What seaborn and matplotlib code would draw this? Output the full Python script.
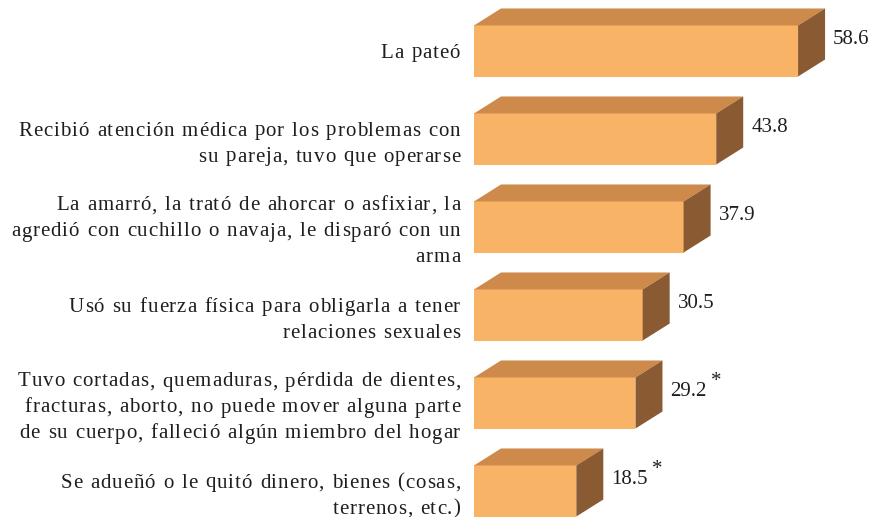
import matplotlib.pyplot as plt
import seaborn as sns
import pandas as pd
from matplotlib.patches import Polygon
from matplotlib.transforms import IdentityTransform
from matplotlib.font_manager import FontProperties, findfont, get_font

categories = [
    "La pateó",
    "Recibió atención médica por los problemas con\nsu pareja, tuvo que operarse",
    "La amarró, la trató de ahorcar o asfixiar, la\nagredió con cuchillo o navaja, le disparó con un\narma",
    "Usó su fuerza física para obligarla a tener\nrelaciones sexuales",
    "Tuvo cortadas, quemaduras, pérdida de dientes,\nfracturas, aborto, no puede mover alguna parte\nde su cuerpo, falleció algún miembro del hogar",
    "Se adueñó o le quitó dinero, bienes (cosas,\nterrenos, etc.)",
]
values = [58.6, 43.8, 37.9, 30.5, 29.2, 18.5]
value_labels = ["58.6", "43.8", "37.9", "30.5", "29.2", "18.5"]
flags = ["", "", "", "", "*", "*"]

front_color = "#F9B366"
top_color = "#CD8A4B"
side_color = "#8A5A32"
text_color = "#1e1e1e"

sns.set_theme(style="white")
plt.rcParams["font.family"] = ["Liberation Serif", "DejaVu Serif"]

W, H, DPI = 881, 517, 100
label_size = 15
value_size = 15
tracking = 0.9  # extra px between letters, the source has loose spacing
word_gap = 1.0  # a bit more between words

df = pd.DataFrame({"cat": categories, "val": values})

fig = plt.figure(figsize=(W / DPI, H / DPI), dpi=DPI)
ax = fig.add_axes([474 / W, 0, (W - 474) / W, 1])

px_per_unit = 5.53
bar_h = 0.58
sns.barplot(data=df, y="cat", x="val", orient="h", color=front_color,
            width=bar_h, saturation=1, ax=ax, linewidth=0)

ax.set_xlim(0, (W - 474) / px_per_unit)
ax.set_ylim((H - 51) / 88, -51 / 88)

# 3D depth of the boxes
dx = 27 / px_per_unit
dy = 17 / 88

for patch in ax.patches[:len(values)]:
    x0 = patch.get_x()
    x1 = x0 + patch.get_width()
    y_top = patch.get_y()
    y_bot = y_top + patch.get_height()
    top = Polygon([(x0, y_top), (x0 + dx, y_top - dy), (x1 + dx, y_top - dy), (x1, y_top)],
                  closed=True, facecolor=top_color, edgecolor="none", clip_on=False)
    side = Polygon([(x1, y_top), (x1 + dx, y_top - dy), (x1 + dx, y_bot - dy), (x1, y_bot)],
                   closed=True, facecolor=side_color, edgecolor="none", clip_on=False)
    ax.add_patch(top)
    ax.add_patch(side)


def advances(s, size, track=0.0, gap=0.0):
    """pixel advance of each character"""
    fp = FontProperties(family=plt.rcParams["font.family"], size=size)
    font = get_font(findfont(fp))
    font.set_size(size, 72)
    out = []
    for c in s:
        g = font.load_char(ord(c))
        a = g.linearHoriAdvance / 65536 * DPI / 72 + track
        if c == " ":
            a += gap
        out.append(a)
    return out


def tracked_line(x_right, y_base, s, size):
    """right aligned line with letter spacing, coords in image pixels"""
    adv = advances(s, size, tracking, word_gap)
    x = x_right - (sum(adv) - tracking)
    for c, a in zip(s, adv):
        if c != " ":
            fig.text(x, H - y_base, c, transform=IdentityTransform(), fontsize=size,
                     ha="left", va="baseline", color=text_color)
        x += a


# category labels
for i, cat in enumerate(categories):
    center = 51 + 88 * i
    lines = cat.split("\n")
    n = len(lines)
    shift = 3 if n > 1 else 0
    for k, line in enumerate(lines):
        base = center + 6.5 + (k - (n - 1) / 2) * 26 + shift
        tracked_line(460, base, line, label_size)

# value labels
for i, (v, lab, f) in enumerate(zip(values, value_labels, flags)):
    ax.text(v + dx + 8 / px_per_unit, i - 7 / 88, lab, ha="left", va="baseline",
            fontsize=value_size, color=text_color)
    if f:
        w = sum(advances(lab, value_size))
        ax.text(v + dx + (8 + w + 4) / px_per_unit, i - 17 / 88, f, ha="left",
                va="baseline", fontsize=value_size, color=text_color)

ax.set_xlabel("")
ax.set_ylabel("")
ax.set_xticks([])
ax.set_yticks([])
sns.despine(ax=ax, left=True, bottom=True)

fig.savefig("out.png", dpi=DPI)
